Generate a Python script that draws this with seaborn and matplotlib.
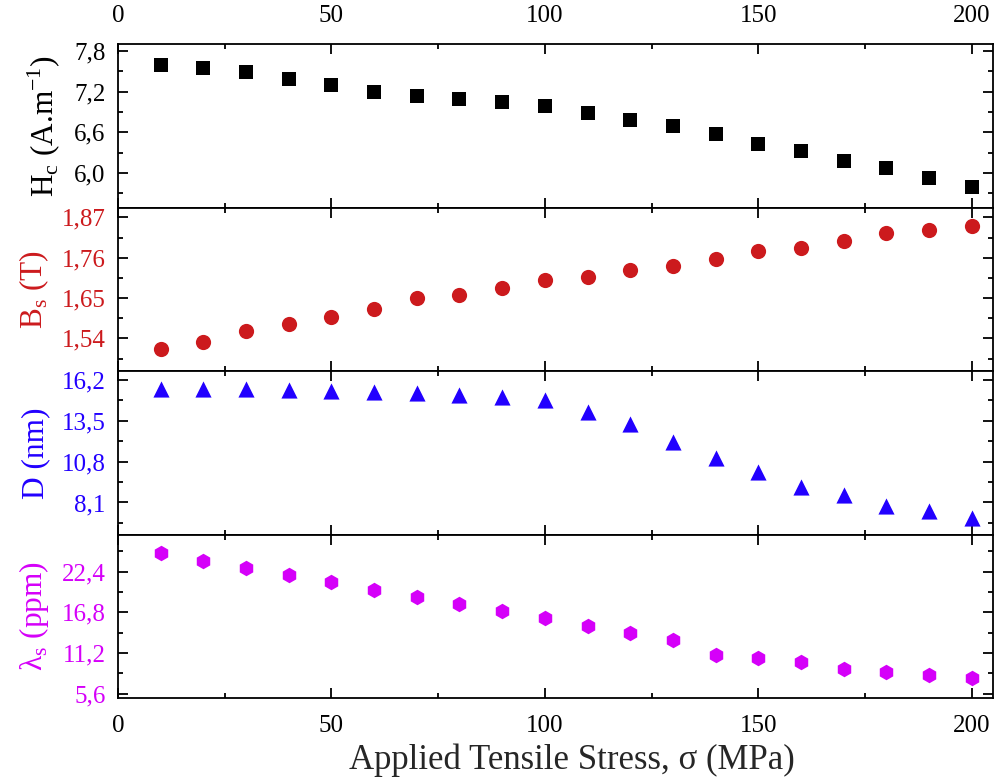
import numpy as np
import pandas as pd
import seaborn as sns
import matplotlib.pyplot as plt
from matplotlib.ticker import MultipleLocator, FuncFormatter

# applied tensile stress (MPa)
stress = [10, 20, 30, 40, 50, 60, 70, 80, 90, 100,
          110, 120, 130, 140, 150, 160, 170, 180, 190, 200]

hc = [7.59, 7.54, 7.49, 7.38, 7.29, 7.20, 7.14, 7.09, 7.04, 6.99,
      6.89, 6.78, 6.69, 6.58, 6.43, 6.33, 6.18, 6.08, 5.93, 5.79]
bs = [1.510, 1.529, 1.559, 1.578, 1.599, 1.619, 1.649, 1.658, 1.677, 1.698,
      1.707, 1.727, 1.737, 1.757, 1.778, 1.787, 1.807, 1.828, 1.837, 1.847]
d_nm = [15.64, 15.62, 15.58, 15.55, 15.49, 15.44, 15.33, 15.24, 15.09, 14.91,
        14.08, 13.28, 12.10, 11.07, 10.11, 9.10, 8.60, 7.88, 7.55, 7.10]
lam = [24.92, 23.91, 22.95, 21.95, 20.99, 19.93, 18.93, 17.93, 16.94, 15.98,
       14.94, 13.98, 12.93, 10.97, 10.50, 9.96, 9.00, 8.56, 8.20, 7.74]

x_ticks = [0, 50, 100, 150, 200]
hc_ticks = [6.0, 6.6, 7.2, 7.8]
bs_ticks = [1.54, 1.65, 1.76, 1.87]
d_ticks = [8.1, 10.8, 13.5, 16.2]
lam_ticks = [5.6, 11.2, 16.8, 22.4]

sns.set_theme(style='ticks')
plt.rcParams['font.family'] = ['Liberation Serif', 'DejaVu Serif']
plt.rcParams['mathtext.fontset'] = 'custom'
plt.rcParams['mathtext.rm'] = 'Liberation Serif'

df = pd.DataFrame({'stress': stress, 'hc': hc, 'bs': bs, 'd': d_nm, 'lam': lam})

panels = [
    ('hc', 's', 88, '#000000', hc_ticks, (5.49, 7.9), 'H$_\\mathregular{c}$ (A.m$^\\mathregular{-1}$)', '{:.1f}'),
    ('bs', 'o', 120, '#cc1a1d', bs_ticks, (1.451, 1.897), 'B$_\\mathregular{s}$ (T)', '{:.2f}'),
    ('d', '^', 135, '#2200ff', d_ticks, (5.98, 16.8), 'D (nm)', '{:.1f}'),
    ('lam', 'h', 125, '#d500f9', lam_ticks, (5.0, 27.5), 'λ$_\\mathregular{s}$ (ppm)', '{:.1f}'),
]

fig, axes = plt.subplots(4, 1, figsize=(9.96, 7.78), dpi=100, sharex=True)
fig.subplots_adjust(left=0.1185, right=0.997, top=0.9434, bottom=0.1028, hspace=0)

for ax, (col, mk, sz, colr, ticks, lims, lab, fmt) in zip(axes, panels):
    sns.scatterplot(data=df, x='stress', y=col, marker=mk, s=sz, color=colr,
                    linewidth=0, ax=ax, legend=False)
    ax.set_xlim(0, 205)
    ax.set_ylim(*lims)
    ax.set_yticks(ticks)
    step = ticks[1] - ticks[0]
    ax.yaxis.set_minor_locator(MultipleLocator(step / 2))
    ax.yaxis.set_major_formatter(FuncFormatter(lambda v, p, f=fmt: f.format(v).replace('.', ',')))
    ax.set_xticks(x_ticks)
    ax.xaxis.set_minor_locator(MultipleLocator(25))
    ax.tick_params(which='both', direction='in', top=True, right=True,
                   width=1.3, labelsize=18, colors='black')
    ax.tick_params(which='major', length=7)
    ax.tick_params(which='minor', length=3.5)
    ax.tick_params(axis='y', labelcolor=colr, pad=9)
    ax.tick_params(axis='x', pad=12)
    ax.set_ylabel(lab, fontsize=22.5, color=colr, labelpad=8)
    ax.set_xlabel('')
    for sp in ax.spines.values():
        sp.set_linewidth(1.3)
        sp.set_color('black')

axes[0].tick_params(axis='x', labeltop=True, labelbottom=False)
axes[-1].tick_params(axis='x', labelbottom=True)
axes[-1].set_xlabel('Applied Tensile Stress, σ (MPa)', fontsize=25, labelpad=5)
axes[-1].xaxis.label.set_x(0.519)

fig.savefig('out.png', dpi=100)
